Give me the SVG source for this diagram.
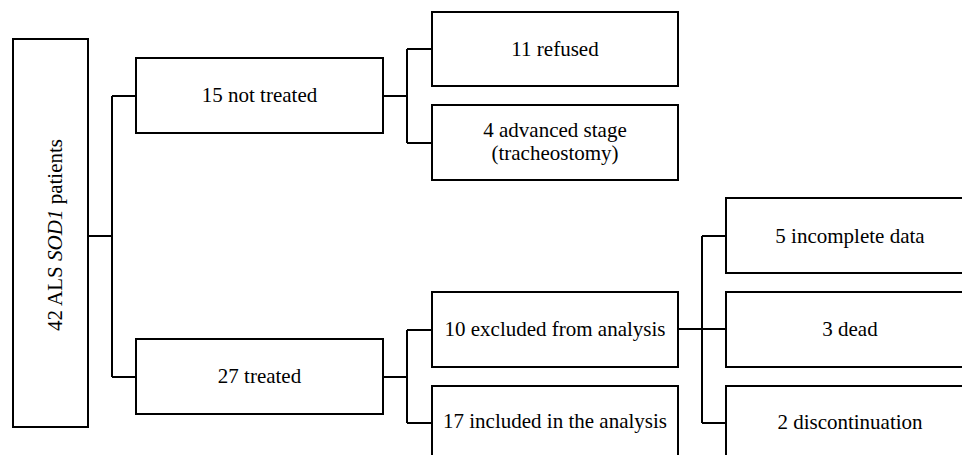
<svg xmlns="http://www.w3.org/2000/svg" width="962" height="455" viewBox="0 0 962 455" font-family="Liberation Serif, serif">
<style>
.box{fill:#fff;stroke:#000;stroke-width:2}
.ln{fill:none;stroke:#000;stroke-width:2}
.t{font-family:'Liberation Serif',serif;font-size:21px;fill:#000;text-anchor:middle}
</style>
<rect width="962" height="455" fill="#fff"/>
<g id="connectors">
<path class="ln" d="M88,236 H112 M112,96 V377 M112,96 H136 M112,377 H136"/>
<path class="ln" d="M383,96 H407 M407,49 V143 M407,49 H432 M407,143 H432"/>
<path class="ln" d="M383,377 H407 M407,330 V423 M407,330 H432 M407,423 H432"/>
<path class="ln" d="M678,329 H726 M702,236 V423 M702,236 H726 M702,423 H726"/>
</g>
<g id="root">
<rect class="box" x="13" y="39" width="75" height="388"/>
<text class="t" transform="translate(62,235) rotate(-90)">42 ALS <tspan font-style="italic">SOD1</tspan> patients</text>
</g>
<g id="not-treated">
<rect class="box" x="136" y="58" width="247" height="75"/>
<text class="t" x="259.5" y="102">15 not treated</text>
</g>
<g id="treated">
<rect class="box" x="136" y="339" width="247" height="75"/>
<text class="t" x="259.5" y="383">27 treated</text>
</g>
<g id="refused">
<rect class="box" x="432" y="12" width="246" height="74"/>
<text class="t" x="555" y="56">11 refused</text>
</g>
<g id="advanced">
<rect class="box" x="432" y="105" width="246" height="75"/>
<text class="t" x="555" y="137">4 advanced stage</text>
<text class="t" x="555" y="160">(tracheostomy)</text>
</g>
<g id="excluded">
<rect class="box" x="432" y="292" width="246" height="75"/>
<text class="t" x="555" y="336">10 excluded from analysis</text>
</g>
<g id="included">
<rect class="box" x="432" y="386" width="246" height="80"/>
<text class="t" x="555" y="428">17 included in the analysis</text>
</g>
<g id="incomplete">
<rect class="box" x="726" y="198" width="250" height="75"/>
<text class="t" x="850" y="243">5 incomplete data</text>
</g>
<g id="dead">
<rect class="box" x="726" y="292" width="250" height="75"/>
<text class="t" x="850" y="336">3 dead</text>
</g>
<g id="discontinuation">
<rect class="box" x="726" y="386" width="250" height="80"/>
<text class="t" x="850" y="429">2 discontinuation</text>
</g>
</svg>
